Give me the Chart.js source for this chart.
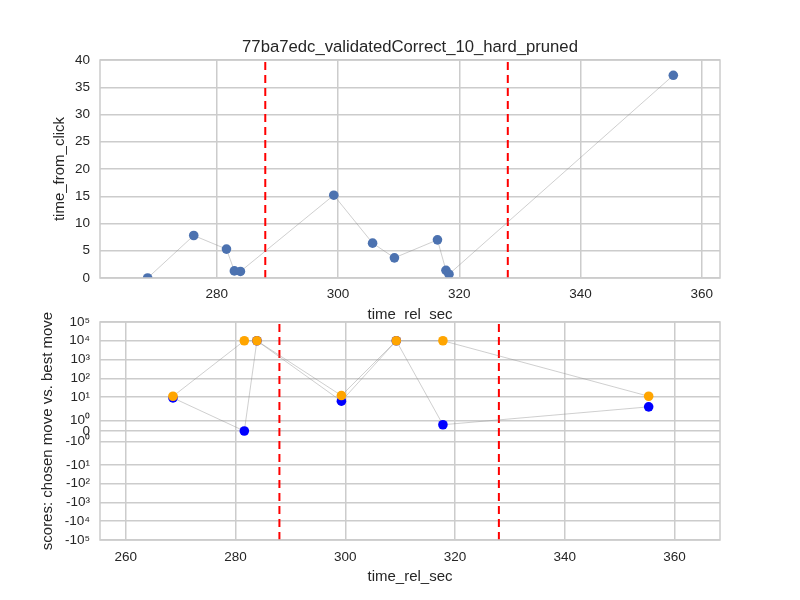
<!DOCTYPE html>
<html>
<head>
<meta charset="utf-8">
<script src="https://cdn.jsdelivr.net/npm/chart.js@4.4.1/dist/chart.umd.min.js"></script>
<style>
  html, body { margin: 0; padding: 0; background: #fff; }
  #wrap { position: relative; width: 800px; height: 600px; overflow: hidden; }
  canvas { position: absolute; left: 0; }
  #top { top: 0; }
  #bottom { top: 300px; }
</style>
</head>
<body>
<div id="wrap">
  <canvas id="top" width="800" height="330"></canvas>
  <canvas id="bottom" width="800" height="300"></canvas>
</div>
<script>
// ══════════════════════════════════════════
// DATA
// ══════════════════════════════════════════
const chartTitle = "77ba7edc_validatedCorrect_10_hard_pruned";

// top panel: delay since last click
const clickTimes = [268.6, 276.2, 281.6, 282.9, 283.9, 299.3, 305.7, 309.3, 316.4, 317.8, 318.3, 355.3];
const clickDelays = [0, 7.8, 5.3, 1.3, 1.2, 15.2, 6.4, 3.7, 7.0, 1.4, 0.7, 37.2];

// bottom panel: scores of chosen move vs best move
const moveTimes = [268.6, 281.6, 283.9, 299.3, 309.3, 317.8, 355.3];
const chosenScores = [9, 0, 10000, 6, 10000, 0.6, 3];
const bestScores = [11, 10000, 10000, 12, 10000, 10000, 11];

// red dashed markers
const markerTimes = [288, 328];

// ticks
const topXTicks = [280, 300, 320, 340, 360];
const topYTicks = [0, 5, 10, 15, 20, 25, 30, 35, 40];
const bottomXTicks = [260, 280, 300, 320, 340, 360];
const scoreTicks = [-1e5, -1e4, -1e3, -1e2, -10, -1, 0, 1, 10, 1e2, 1e3, 1e4, 1e5];
const scoreTickLabels = ["-10⁵", "-10⁴", "-10³", "-10²", "-10¹", "-10⁰", "0", "10⁰", "10¹", "10²", "10³", "10⁴", "10⁵"];

// ══════════════════════════════════════════
// SYMLOG SCALE (linthresh 2, linscale 1, base 10)
// ══════════════════════════════════════════
const LINTHRESH = 2;
const LINSCALE_ADJ = 1 / (1 - 1 / 10);

function symlog(v) {
  const a = Math.abs(v);
  if (a <= LINTHRESH) return v * LINSCALE_ADJ;
  return Math.sign(v) * LINTHRESH * (LINSCALE_ADJ + Math.log10(a / LINTHRESH));
}
function symexp(t) {
  const a = Math.abs(t);
  const lim = LINTHRESH * LINSCALE_ADJ;
  if (a <= lim) return t / LINSCALE_ADJ;
  return Math.sign(t) * LINTHRESH * Math.pow(10, a / LINTHRESH - LINSCALE_ADJ);
}

class SymlogScale extends Chart.LinearScale {
  determineDataLimits() {
    this.min = this.options.min;
    this.max = this.options.max;
  }
  buildTicks() {
    return scoreTicks.map((v) => ({ value: v }));
  }
  configure() {
    super.configure();
    this._tMin = symlog(this.min);
    this._tMax = symlog(this.max);
  }
  getPixelForValue(v) {
    return this.getPixelForDecimal((symlog(v) - this._tMin) / (this._tMax - this._tMin));
  }
  getValueForPixel(p) {
    return symexp(this._tMin + this.getDecimalForPixel(p) * (this._tMax - this._tMin));
  }
}
SymlogScale.id = "symlog";
SymlogScale.defaults = Chart.LinearScale.defaults;
Chart.register(SymlogScale);

// ══════════════════════════════════════════
// SHARED STYLE
// ══════════════════════════════════════════
const FONT = "'Liberation Sans', Arial, sans-serif";
Chart.defaults.font.family = FONT;
Chart.defaults.color = "#262626";

const GRID = "#cccccc";
const LINK = "rgba(140,140,140,0.7)";

const frame = {
  id: "frame",
  afterDraw(chart) {
    const a = chart.chartArea;
    const ctx = chart.ctx;
    ctx.save();
    ctx.strokeStyle = GRID;
    ctx.lineWidth = 1.5;
    ctx.strokeRect(a.left, a.top, a.right - a.left, a.bottom - a.top);
    ctx.restore();
  },
};

function toPoints(xs, ys) {
  return xs.map((x, i) => ({ x, y: ys[i] }));
}

function markerSets(yMin, yMax) {
  return markerTimes.map((t) => ({
    data: [{ x: t, y: yMin }, { x: t, y: yMax }],
    showLine: true,
    borderColor: "#ff0000",
    borderWidth: 2,
    borderDash: [8, 5],
    pointRadius: 0,
    order: 5,
    clip: 0,
  }));
}

function xAxis(min, max, ticks, height, tickPad, titlePad) {
  return {
    type: "linear",
    min,
    max,
    afterBuildTicks: (s) => { s.ticks = ticks.map((v) => ({ value: v })); },
    afterFit: (s) => { s.height = height; },
    grid: { color: GRID, lineWidth: 1.5, drawTicks: false },
    border: { display: false },
    ticks: { font: { size: 13.5 }, padding: tickPad, maxRotation: 0, autoSkip: false },
    title: { display: true, text: "time_rel_sec", font: { size: 15 }, padding: { top: 0, bottom: titlePad } },
  };
}

// ══════════════════════════════════════════
// TOP PANEL
// ══════════════════════════════════════════
new Chart(document.getElementById("top"), {
  type: "scatter",
  data: {
    datasets: [
      {
        data: toPoints(clickTimes, clickDelays),
        showLine: true,
        borderColor: LINK,
        borderWidth: 0.6,
        pointRadius: 4.8,
        pointBorderWidth: 0,
        pointBackgroundColor: "#4c72b0",
        order: 1,
        clip: 0,
      },
      ...markerSets(0, 40),
    ],
  },
  options: {
    responsive: false,
    animation: false,
    layout: { padding: { left: 0, right: 80, top: 0, bottom: 0 } },
    plugins: {
      legend: { display: false },
      tooltip: { enabled: false },
      title: {
        display: true,
        fullSize: false,
        text: chartTitle,
        color: "#262626",
        font: { size: 16.7, weight: "normal" },
        padding: { top: 37, bottom: 3 },
      },
    },
    scales: {
      x: xAxis(260.74, 363, topXTicks, 52, 8, 6),
      y: {
        type: "linear",
        min: 0,
        max: 40,
        afterBuildTicks: (s) => { s.ticks = topYTicks.map((v) => ({ value: v })); },
        afterFit: (s) => { s.width = 100; },
        grid: { color: GRID, lineWidth: 1.5, drawTicks: false },
        border: { display: false },
        ticks: { font: { size: 13.5 }, padding: 10, autoSkip: false },
        title: { display: true, text: "time_from_click", font: { size: 15 }, padding: { top: 51, bottom: 0 } },
      },
    },
  },
  plugins: [frame],
});

// ══════════════════════════════════════════
// BOTTOM PANEL
// ══════════════════════════════════════════
new Chart(document.getElementById("bottom"), {
  type: "scatter",
  data: {
    datasets: [
      {
        data: toPoints(moveTimes, bestScores),
        showLine: true,
        borderColor: LINK,
        borderWidth: 0.6,
        pointRadius: 4.8,
        pointBorderWidth: 0,
        pointBackgroundColor: "#ffa500",
        order: 0,
        clip: 0,
      },
      {
        data: toPoints(moveTimes, chosenScores),
        showLine: true,
        borderColor: LINK,
        borderWidth: 0.6,
        pointRadius: 4.8,
        pointBorderWidth: 0,
        pointBackgroundColor: "#0000ff",
        order: 1,
        clip: 0,
      },
      ...markerSets(-1e5, 1e5),
    ],
  },
  options: {
    responsive: false,
    animation: false,
    layout: { padding: { left: 0, right: 80, top: 22, bottom: 0 } },
    plugins: { legend: { display: false }, tooltip: { enabled: false } },
    scales: {
      x: xAxis(255.3, 368.3, bottomXTicks, 60, 9, 14),
      y: {
        type: "symlog",
        min: -1e5,
        max: 1e5,
        afterFit: (s) => { s.width = 100; },
        grid: { color: GRID, lineWidth: 1.5, drawTicks: false },
        border: { display: false },
        ticks: {
          font: { size: 13.5 },
          padding: 10,
          autoSkip: false,
          callback: (v, i) => scoreTickLabels[i],
        },
        title: { display: true, text: "scores: chosen move vs. best move", font: { size: 15 }, padding: { top: 39, bottom: 0 } },
      },
    },
  },
  plugins: [frame],
});
</script>
</body>
</html>
